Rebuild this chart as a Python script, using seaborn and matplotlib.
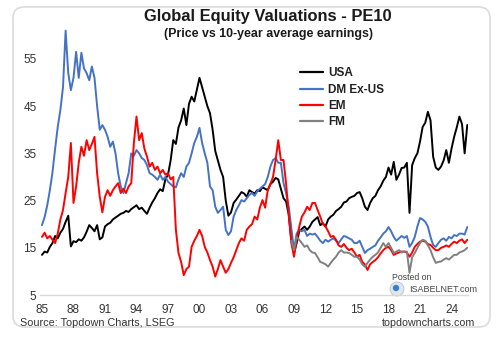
import numpy as np
import pandas as pd
import matplotlib
matplotlib.use("Agg")
import matplotlib.pyplot as plt
from matplotlib.patches import FancyBboxPatch, Circle
from matplotlib.transforms import IdentityTransform
import seaborn as sns

# Quarterly observations, decimal years
dates = [1985 + q * 0.25 for q in range(163)]  # 1985.00 .. 2025.50

usa = [
    13.5, 14.2, 14.0, 15.2,  16.0, 17.5, 17.0, 18.2,  19.0, 20.5, 21.8, 15.3,
    16.4, 16.2, 16.8, 16.5,  17.2, 18.4, 19.8, 19.2,  18.5, 19.8, 16.8, 17.2,
    19.5, 20.0, 20.3, 21.0,  21.4, 21.8, 22.2, 22.4,  22.8, 22.6, 23.2, 23.6,
    24.0, 23.2, 23.5, 22.8,  22.2, 23.5, 24.6, 25.5,  26.6, 27.4, 27.0, 29.5,
    30.5, 33.5, 37.8, 37.0,  40.5, 42.0, 44.5, 41.0,  45.5, 47.0, 46.0, 48.5,
    51.0, 49.0, 47.0, 45.0,  43.5, 40.0, 35.5, 33.5,  31.5, 30.0, 25.0, 21.8,
    22.5, 24.5, 25.2, 26.0,  26.8, 26.5, 25.8, 27.2,  26.8, 26.5, 27.2, 27.0,
    27.8, 27.5, 27.2, 28.5,  29.0, 29.8, 29.5, 27.5,  25.5, 24.8, 22.0, 16.5,
    13.9, 16.0, 18.5, 19.0,  19.5, 18.8, 19.5, 20.5,  21.0, 21.5, 19.8, 20.2,
    19.5, 21.0, 21.6, 22.0,  22.8, 23.2, 23.7, 24.6,  24.8, 25.5, 25.8, 26.0,
    26.6, 26.8, 25.5, 23.7,  23.0, 24.5, 25.5, 26.0,  27.2, 28.0, 29.2, 30.0,
    32.0, 30.5, 33.2, 29.4,  30.5, 31.9, 32.0, 33.0,  22.4, 32.5, 34.0, 35.0,
    37.5, 40.6, 41.5, 43.8,  42.0, 34.3, 32.0, 31.5,  32.2, 33.5, 35.7, 33.0,
    36.0, 38.5, 40.5, 42.8,  41.2, 35.0, 41.0,
]

dm_ex_us = [
    19.8, 21.5, 24.0, 27.2,  31.0, 36.0, 40.6, 44.2,  49.0, 61.0, 52.0, 48.4,
    51.0, 56.5, 51.0, 56.3,  53.0, 52.0, 50.5, 53.4,  51.0, 45.0, 40.0, 41.0,
    40.0, 38.5, 36.4, 37.5,  35.0, 30.8, 28.0, 26.6,  28.7, 30.8, 35.0, 34.5,
    35.7, 35.0, 34.0, 33.6,  32.5, 30.8, 30.5, 30.0,  29.4, 30.5, 29.4, 30.0,
    29.0, 28.5, 28.0, 27.8,  29.5, 30.8, 30.0, 32.2,  33.0, 35.0, 37.2, 38.5,
    40.4, 37.2, 35.0, 33.0,  28.0, 27.2, 23.7, 22.4,  23.0, 23.7, 18.8, 17.7,
    18.5, 21.6, 23.0, 24.0,  25.1, 24.8, 25.5, 26.2,  26.6, 26.0, 27.0, 27.5,
    28.0, 28.5, 30.0, 32.2,  33.6, 34.0, 33.0, 33.0,  28.7, 26.5, 23.7, 19.0,
    14.5, 18.0, 18.8, 18.5,  18.8, 17.5, 18.0, 17.8,  18.0, 17.3, 16.5, 16.0,
    16.7, 16.3, 16.7, 17.0,  16.5, 16.0, 16.8, 17.5,  17.3, 17.0, 16.7, 16.0,
    16.0, 16.5, 15.2, 13.9,  14.5, 14.8, 15.2, 15.5,  16.5, 17.2, 18.0, 18.5,
    19.4, 18.5, 17.3, 16.5,  17.0, 17.5, 17.1, 17.5,  15.2, 16.0, 17.3, 19.5,
    21.3, 21.0, 20.5, 19.5,  17.3, 15.6, 15.2, 16.0,  16.7, 17.0, 16.5, 17.3,
    17.0, 17.7, 17.5, 18.0,  18.0, 17.8, 19.4,
]

em = [
    17.3, 18.2, 17.0, 17.5,  16.7, 16.0, 18.0, 21.0,  23.0, 26.6, 30.0, 37.2,
    24.5, 28.0, 33.0, 36.4,  34.5, 37.8, 35.7, 37.0,  38.5, 30.8, 25.8, 22.5,
    25.8, 27.2, 26.0, 27.2,  28.0, 28.7, 26.6, 27.5,  26.6, 28.0, 28.7, 37.2,
    42.8, 37.8, 39.3, 36.0,  34.3, 32.2, 33.0, 31.5,  32.2, 30.8, 31.5, 30.5,
    30.8, 29.5, 30.0, 18.8,  13.9, 12.0, 9.2, 10.5,   11.0, 15.2, 16.5, 17.5,
    18.8, 17.5, 15.2, 14.0,  12.4, 11.0, 8.9, 10.5,   12.4, 11.0, 9.7, 10.5,
    11.8, 13.0, 14.5, 16.0,  17.0, 16.5, 18.8, 19.5,  20.0, 21.6, 21.0, 23.5,
    25.1, 23.5, 27.2, 28.5,  30.0, 33.6, 37.8, 33.6,  33.6, 28.5, 22.0, 16.0,
    13.1, 16.7, 19.5, 21.6,  22.5, 23.7, 23.0, 24.5,  24.5, 23.0, 21.6, 20.0,
    19.5, 18.5, 17.3, 17.5,  16.7, 15.5, 15.2, 15.8,  15.0, 14.5, 14.8, 14.0,
    13.1, 13.5, 12.0, 11.5,  10.3, 11.5, 12.0, 12.4,  13.0, 13.8, 14.5, 15.0,
    15.2, 14.5, 13.5, 13.8,  14.0, 14.2, 14.2, 14.0,  13.1, 14.0, 15.2, 15.8,
    16.3, 16.5, 16.3, 15.8,  15.6, 15.0, 14.5, 14.5,  15.0, 15.2, 15.5, 15.2,
    15.8, 16.3, 16.0, 16.5,  16.8, 16.0, 16.7,
]

# Frontier markets history begins in late 2008
fm_start = 2008.75
fm = [
    16.5,
    14.5, 17.3, 16.7, 16.0,  15.2, 15.5, 14.5, 14.0,  13.9, 13.0, 12.0, 11.8,
    11.5, 11.0, 11.8, 12.5,  13.1, 14.0, 14.5, 14.0,  14.0, 13.9, 13.5, 13.1,
    13.1, 12.5, 11.5, 11.0,  11.8, 12.5, 13.1, 13.5,  14.0, 15.0, 16.0, 15.2,
    16.0, 15.0, 13.9, 14.2,  14.5, 14.0, 14.2, 14.2,  9.7, 13.0, 13.9, 15.0,
    16.0, 16.7, 16.5, 15.5,  14.5, 13.0, 11.8, 12.0,  12.1, 12.5, 12.8, 12.5,
    13.0, 13.5, 13.5, 14.0,  14.2, 14.5, 15.0,
]

series_names = ["USA", "DM Ex-US", "EM", "FM"]
series_colors = ["#000000", "#4472C4", "#FF0000", "#808080"]

x_ticks = list(range(1985, 2025, 3))
x_tick_labels = [f"{y % 100:02d}" for y in x_ticks]
y_ticks = [5, 15, 25, 35, 45, 55]

# Long-form table for seaborn
fm_dates = [d for d in dates if d >= fm_start]
frames = [
    pd.DataFrame({"date": dates, "pe": usa, "series": "USA"}),
    pd.DataFrame({"date": dates, "pe": dm_ex_us, "series": "DM Ex-US"}),
    pd.DataFrame({"date": dates, "pe": em, "series": "EM"}),
    pd.DataFrame({"date": fm_dates, "pe": fm, "series": "FM"}),
]
df = pd.concat(frames, ignore_index=True)

sns.set_style("white")
plt.rcParams["font.family"] = ["Liberation Sans", "DejaVu Sans"]

W, H = 500, 342
fig = plt.figure(figsize=(W / 100, H / 100), dpi=100)

# Rounded card behind the chart
card = FancyBboxPatch((13, 15), 477, 320,
                      boxstyle="round,pad=0,rounding_size=11",
                      transform=IdentityTransform(),
                      facecolor="white", edgecolor="#dcdcdc", linewidth=1.2,
                      zorder=-5)
fig.patches.append(card)

ax = fig.add_axes([40 / W, (H - 295) / H, 428 / W, 273.8 / H])
ax.set_facecolor("none")
ax.set_zorder(2)

sns.lineplot(data=df, x="date", y="pe", hue="series",
             hue_order=series_names,
             palette=dict(zip(series_names, series_colors)),
             estimator=None, linewidth=1.4, ax=ax, legend=True)

ax.set_xlim(1984.81, 2025.57)
ax.set_ylim(5, 63)
ax.set_xticks(x_ticks)
ax.set_xticklabels(x_tick_labels)
ax.set_yticks(y_ticks)
ax.set_xlabel("")
ax.set_ylabel("")
ax.tick_params(axis="both", length=0, labelsize=8.5, colors="#333333")
ax.tick_params(axis="y", pad=2.5)
ax.tick_params(axis="x", pad=6.5)

for side in ["top", "right", "left"]:
    ax.spines[side].set_visible(False)
ax.spines["bottom"].set_color("#d9d9d9")
ax.spines["bottom"].set_linewidth(1.0)

leg = ax.legend(loc="upper left", bbox_to_anchor=(0.582, 0.87),
                frameon=False, handlelength=1.95, handletextpad=0.45,
                labelspacing=0.36,
                prop={"weight": "bold", "size": 8.5})
for t in leg.get_texts():
    t.set_color("#222222")
for line in leg.get_lines():
    line.set_linewidth(1.6)

# Titles
fig.text(268 / W, 1 - 17 / H, "Global Equity Valuations - PE10",
         ha="center", va="center", fontsize=11.9, fontweight="bold",
         color="#1a1a1a")
fig.text(268 / W, 1 - 34 / H, "(Price vs 10-year average earnings)",
         ha="center", va="center", fontsize=8.9, fontweight="bold",
         color="#1a1a1a")

# Footer
fig.text(20 / W, 1 - 323 / H, "Source: Topdown Charts, LSEG",
         ha="left", va="center", fontsize=7.8, color="#333333")
fig.text(475 / W, 1 - 323 / H, "topdowncharts.com",
         ha="right", va="center", fontsize=7.7, color="#333333")

# Posted-on badge
fig.text(412 / W, 1 - 277 / H, "Posted on", ha="center", va="center",
         fontsize=6.3, color="#444444")
fig.text(409 / W, 1 - 289 / H, "ISABELNET.com", ha="left", va="center",
         fontsize=6.5, color="#444444")
fig.patches.append(Circle((397, H - 289), 7, transform=IdentityTransform(),
                          facecolor="#dfe6ee", edgecolor="#b8c4d0",
                          linewidth=0.6))
fig.patches.append(Circle((396, H - 288), 3.2, transform=IdentityTransform(),
                          facecolor="#3b7fc4", edgecolor="none"))

fig.savefig("out.png", dpi=100, facecolor="white")
